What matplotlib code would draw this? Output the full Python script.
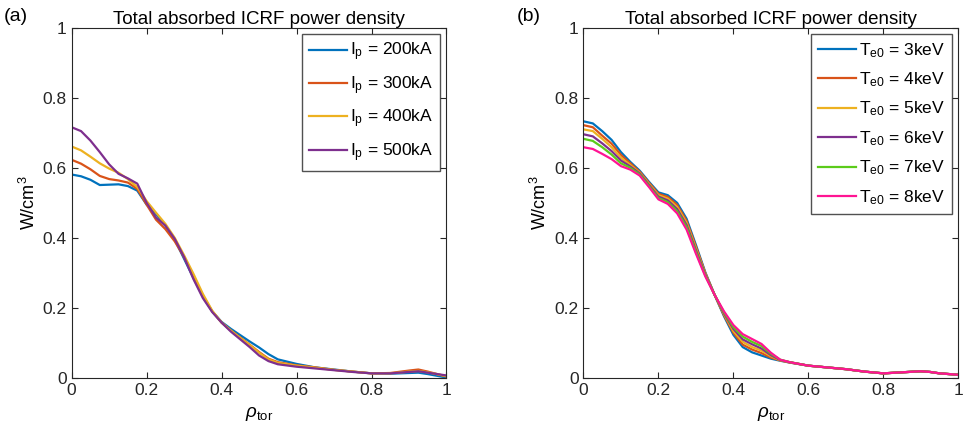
import numpy as np
import matplotlib.pyplot as plt

plt.rcParams['font.family'] = ['Liberation Sans', 'DejaVu Sans']
plt.rcParams['mathtext.fontset'] = 'custom'
plt.rcParams['mathtext.rm'] = 'Liberation Sans'
plt.rcParams['mathtext.it'] = 'Liberation Sans:italic'

rho = [0, 0.025, 0.05, 0.075, 0.1, 0.125, 0.15, 0.175, 0.2, 0.225, 0.25, 0.275,
       0.3, 0.325, 0.35, 0.375, 0.4, 0.425, 0.45, 0.475, 0.5, 0.525, 0.55,
       0.6, 0.65, 0.7, 0.75, 0.8, 0.85, 0.9, 0.925, 0.95, 1.0]

# panel (a): plasma current scan
ip_labels = ['200kA', '300kA', '400kA', '500kA']
ip_200 = [0.581, 0.576, 0.566, 0.551, 0.552, 0.553, 0.548, 0.535, 0.495, 0.468, 0.435, 0.395,
          0.340, 0.285, 0.232, 0.190, 0.160, 0.140, 0.122, 0.104, 0.087, 0.068, 0.053,
          0.040, 0.030, 0.024, 0.018, 0.013, 0.012, 0.014, 0.015, 0.011, 0.001]
ip_300 = [0.623, 0.612, 0.596, 0.577, 0.568, 0.564, 0.558, 0.540, 0.495, 0.452, 0.425, 0.390,
          0.345, 0.290, 0.235, 0.190, 0.158, 0.135, 0.115, 0.095, 0.074, 0.055, 0.045,
          0.036, 0.030, 0.023, 0.018, 0.013, 0.014, 0.021, 0.024, 0.018, 0.004]
ip_400 = [0.661, 0.650, 0.632, 0.613, 0.598, 0.586, 0.568, 0.545, 0.505, 0.472, 0.440, 0.400,
          0.350, 0.297, 0.240, 0.192, 0.158, 0.135, 0.114, 0.094, 0.072, 0.053, 0.043,
          0.035, 0.029, 0.023, 0.018, 0.013, 0.013, 0.018, 0.020, 0.016, 0.005]
ip_500 = [0.716, 0.705, 0.678, 0.645, 0.610, 0.583, 0.570, 0.555, 0.500, 0.458, 0.435, 0.397,
          0.345, 0.282, 0.228, 0.188, 0.158, 0.132, 0.110, 0.088, 0.064, 0.048, 0.039,
          0.032, 0.027, 0.022, 0.017, 0.013, 0.013, 0.017, 0.019, 0.015, 0.007]

# panel (b): central electron temperature scan
te_labels = ['3keV', '4keV', '5keV', '6keV', '7keV', '8keV']
te_3 = [0.733, 0.727, 0.705, 0.680, 0.645, 0.617, 0.592, 0.560, 0.530, 0.522, 0.500, 0.455,
        0.380, 0.302, 0.237, 0.176, 0.123, 0.088, 0.073, 0.064, 0.055, 0.049, 0.044,
        0.035, 0.030, 0.025, 0.018, 0.013, 0.016, 0.019, 0.017, 0.013, 0.009]
te_4 = [0.722, 0.716, 0.692, 0.669, 0.637, 0.613, 0.589, 0.557, 0.526, 0.517, 0.494, 0.449,
        0.375, 0.300, 0.237, 0.179, 0.129, 0.095, 0.081, 0.071, 0.058, 0.050, 0.044,
        0.035, 0.030, 0.025, 0.018, 0.013, 0.016, 0.019, 0.017, 0.013, 0.009]
te_5 = [0.710, 0.705, 0.683, 0.659, 0.629, 0.608, 0.586, 0.554, 0.522, 0.512, 0.488, 0.443,
        0.370, 0.298, 0.237, 0.182, 0.134, 0.103, 0.088, 0.078, 0.062, 0.050, 0.045,
        0.035, 0.030, 0.025, 0.018, 0.013, 0.016, 0.019, 0.017, 0.013, 0.009]
te_6 = [0.696, 0.690, 0.670, 0.648, 0.621, 0.604, 0.584, 0.551, 0.518, 0.507, 0.482, 0.437,
        0.365, 0.296, 0.237, 0.184, 0.140, 0.110, 0.096, 0.084, 0.065, 0.051, 0.045,
        0.035, 0.030, 0.025, 0.018, 0.013, 0.016, 0.019, 0.017, 0.013, 0.009]
te_7 = [0.683, 0.677, 0.659, 0.638, 0.613, 0.600, 0.581, 0.548, 0.514, 0.502, 0.476, 0.431,
        0.360, 0.293, 0.237, 0.187, 0.145, 0.118, 0.103, 0.091, 0.069, 0.052, 0.045,
        0.035, 0.030, 0.025, 0.018, 0.013, 0.016, 0.019, 0.017, 0.013, 0.009]
te_8 = [0.659, 0.654, 0.640, 0.625, 0.605, 0.595, 0.578, 0.545, 0.510, 0.497, 0.470, 0.424,
        0.355, 0.290, 0.237, 0.190, 0.151, 0.125, 0.111, 0.097, 0.072, 0.052, 0.045,
        0.035, 0.030, 0.025, 0.018, 0.013, 0.016, 0.019, 0.017, 0.013, 0.009]

colors = ['#0072BD', '#D95319', '#EDB120', '#7E2F8E', '#5BCB1A', '#FF1493']

fig = plt.figure(figsize=(9.66, 4.42), dpi=100)
ax1 = fig.add_axes([0.0742, 0.145, 0.388, 0.792])
ax2 = fig.add_axes([0.604, 0.145, 0.388, 0.792])


def style_axes(ax):
    ax.set_xlim(0, 1)
    ax.set_ylim(0, 1)
    ax.set_xticks([0, 0.2, 0.4, 0.6, 0.8, 1])
    ax.set_xticklabels(['0', '0.2', '0.4', '0.6', '0.8', '1'])
    ax.set_yticks([0, 0.2, 0.4, 0.6, 0.8, 1])
    ax.set_yticklabels(['0', '0.2', '0.4', '0.6', '0.8', '1'])
    ax.tick_params(direction='in', top=True, right=True, labelsize=12.5,
                   length=4, width=0.8, colors='#262626')
    for s in ax.spines.values():
        s.set_color('#262626')
        s.set_linewidth(0.8)
    ax.set_title('Total absorbed ICRF power density', fontsize=13.5, pad=3)
    ax.set_xlabel(r'$\rho_{\mathrm{tor}}$', fontsize=13.5, labelpad=5)
    ax.set_ylabel(r'W/cm$^3$', fontsize=13, labelpad=3)


def add_legend(ax):
    ax.legend(loc='upper right', fontsize=12.5, frameon=True, fancybox=False,
              edgecolor='#262626', handlelength=2.2, handletextpad=0.2,
              labelspacing=0.62, borderaxespad=0.35, borderpad=0.4)


for y, lab, c in zip([ip_200, ip_300, ip_400, ip_500], ip_labels, colors):
    ax1.plot(rho, y, color=c, lw=1.6, label=r'I$_{\mathrm{p}}$ = ' + lab)
style_axes(ax1)
add_legend(ax1)

for y, lab, c in zip([te_3, te_4, te_5, te_6, te_7, te_8], te_labels, colors):
    ax2.plot(rho, y, color=c, lw=1.6, label=r'T$_{\mathrm{e0}}$ = ' + lab)
style_axes(ax2)
add_legend(ax2)

fig.text(0.004, 0.962, '(a)', fontsize=14, va='center')
fig.text(0.535, 0.962, '(b)', fontsize=14, va='center')

fig.savefig('out.png', dpi=100)
